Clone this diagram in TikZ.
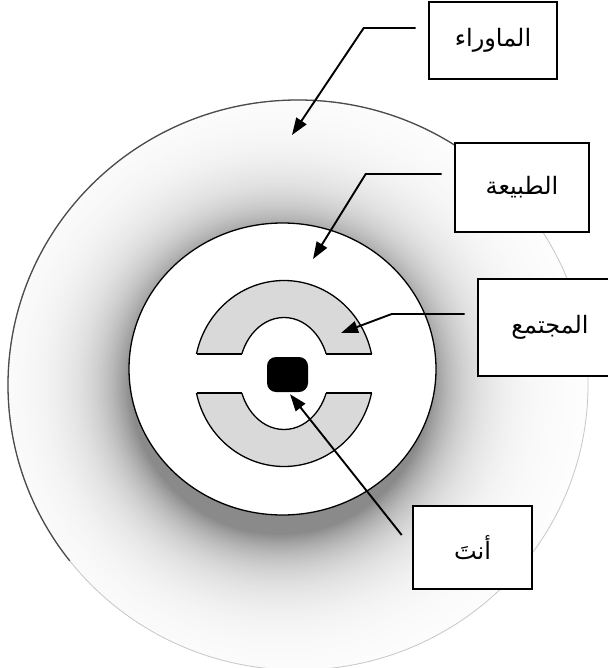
\documentclass[tikz,border=0pt]{standalone}
\usepackage{fontspec}
\usetikzlibrary{arrows.meta}
\newfontfamily\arabicfont[Script=Arabic]{DejaVu Sans}
\TeXXeTstate=1
\tikzset{
  labelbox/.style={draw=black, line width=2.6pt, fill=white, inner sep=0pt, font=\arabicfont\fontsize{24}{28}\selectfont},
  conn/.style={line width=1.9pt, -{Triangle[length=17pt,width=12pt]}},
  ringline/.style={line width=1.3pt},
}
\begin{document}
\begin{tikzpicture}[x=1pt,y=-1pt]
\fill[white] (0,0) rectangle (607,668);
\useasboundingbox (0,0) rectangle (607,668);
% outer sphere with glow around the nature circle
\begin{scope}
  \clip (298,385) ellipse [x radius=290, y radius=285];
  \fill[white] (298,385) ellipse [x radius=290, y radius=285];
  \foreach \r in {320,318,...,150}{
    \pgfmathsetmacro\pc{46*exp(-(\r-150)/38)}
    \fill[black!\pc] (280,385) circle [radius=\r];
  }
\end{scope}
\draw[black!22, line width=0.8pt] (298,385) ellipse [x radius=290, y radius=285];
\begin{scope}
  \clip (-50,690) -- (520,75) -- (520,-50) -- (-50,-50) -- cycle;
  \draw[black!70, line width=1.3pt] (298,385) ellipse [x radius=290, y radius=285];
\end{scope}
% nature
\draw[fill=white, line width=1.3pt] (282.5,369) ellipse [x radius=153.5, y radius=146];
% society ring
\draw[fill=black!15, ringline] (284,373.5) ellipse [x radius=89.5, y radius=93];
\draw[fill=white, ringline] (284,373.5) ellipse [x radius=45, y radius=56];
\fill[white] (190,354) rectangle (380,393);
\draw[ringline] (196.5,354) -- (241.8,354) (326.2,354) -- (371.5,354)
                (196.5,393) -- (241.8,393) (326.2,393) -- (371.5,393);
% you
\node[fill=black, rounded corners=9pt, minimum width=41pt, minimum height=35pt, inner sep=0pt] (you) at (287.5,374.5) {};
% label boxes
\node[labelbox, minimum width=128pt, minimum height=77pt] (maw) at (493,40.5) {\beginR الماوراء\endR};
\node[labelbox, minimum width=134pt, minimum height=89pt] (tab) at (522,187.5) {\beginR الطبيعة\endR};
\node[labelbox, minimum width=150pt, minimum height=97pt] (muj) at (553,327.5) {\hspace*{-6pt}\beginR المجتمع\endR};
\node[labelbox, minimum width=119pt, minimum height=83pt] (ant) at (472.5,547.5) {\beginR أنتَ\endR};
% connectors
\coordinate (mawtip) at (292,135);
\coordinate (tabtip) at (313,259);
\coordinate (mujtip) at (341,333);
\draw[conn] ([xshift=-12pt,yshift=12.5pt]maw.west) -- ++(-52,0) -- (mawtip);
\draw[conn] ([xshift=-12pt,yshift=13.5pt]tab.west) -- ++(-76,0) -- (tabtip);
\draw[conn] ([xshift=-12pt,yshift=13.5pt]muj.west) -- ++(-73,0) -- (mujtip);
\draw[conn] ([xshift=-10pt,yshift=12.5pt]ant.west) -- ([xshift=2.5pt,yshift=-2pt]you.south);
\end{tikzpicture}
\end{document}
